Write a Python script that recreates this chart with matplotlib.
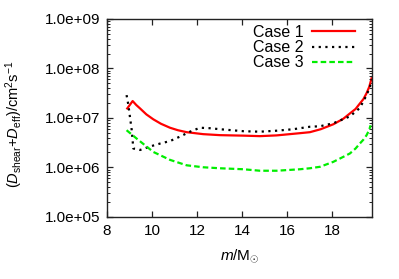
import numpy as np
import matplotlib
matplotlib.use("Agg")
import matplotlib.pyplot as plt
from matplotlib.ticker import FixedLocator, FuncFormatter, LogLocator, NullFormatter

plt.rcParams['font.family'] = ['Liberation Sans', 'DejaVu Sans']
plt.rcParams['mathtext.fontset'] = 'custom'
plt.rcParams['mathtext.rm'] = 'Liberation Sans'
plt.rcParams['mathtext.it'] = 'Liberation Sans:italic'
plt.rcParams['mathtext.bf'] = 'Liberation Sans:bold'

# Case 1 (red solid)
x1 = [8.90, 9.14, 9.30, 9.47, 9.75, 10.06, 10.4, 10.8, 11.15, 11.54, 12.28, 13.02,
      14.06, 14.8, 15.54, 16.58, 17.02, 17.5, 18.06, 18.5, 18.8, 19.05, 19.24,
      19.4, 19.54, 19.66, 19.76]
y1 = [7.19, 7.34, 7.26, 7.19, 7.07, 6.97, 6.88, 6.80, 6.75, 6.71, 6.67, 6.65,
      6.64, 6.63, 6.645, 6.69, 6.71, 6.77, 6.87, 6.98, 7.09, 7.18, 7.29,
      7.38, 7.50, 7.63, 7.80]

# Case 2 (black dotted)
x2 = [8.87, 8.95, 9.02, 9.10, 9.17, 9.47, 9.91, 10.36, 10.8, 11.24, 11.69, 12.13,
      12.58, 13.02, 14.06, 14.8, 15.54, 16.28, 17.02, 17.47, 18.06, 18.8, 19.24,
      19.54, 19.69, 19.76]
y2 = [7.46, 7.26, 7.02, 6.75, 6.38, 6.35, 6.42, 6.48, 6.53, 6.62, 6.72, 6.80,
      6.79, 6.77, 6.73, 6.72, 6.74, 6.77, 6.82, 6.83, 6.89, 7.03, 7.20,
      7.46, 7.63, 7.78]

# Case 3 (green dashed)
x3 = [8.87, 9.32, 10.06, 10.8, 11.54, 12.28, 13.02, 14.06, 14.8, 15.54, 16.58,
      17.02, 17.47, 18.06, 18.5, 18.8, 19.05, 19.24, 19.4, 19.54, 19.65, 19.72]
y3 = [6.75, 6.58, 6.31, 6.15, 6.04, 6.00, 5.98, 5.96, 5.93, 5.93, 5.96,
      5.98, 6.01, 6.11, 6.21, 6.28, 6.38, 6.48, 6.56, 6.65, 6.75, 6.85]

labels = ['Case 1', 'Case 2', 'Case 3']
yticks = [1e5, 1e6, 1e7, 1e8, 1e9]
xticks = [8, 10, 12, 14, 16, 18]

fig = plt.figure(figsize=(3.99, 2.79), dpi=100)
ax = fig.add_axes([107/399, 1-216.7/279, 265/399, 197.7/279])

ax.plot(x1, 10**np.array(y1), color='#ff0000', lw=1.6, label=labels[0])
ax.plot(x2, 10**np.array(y2), color='black', lw=1.6, dashes=(1.0, 2.0),
        dash_capstyle='butt', label=labels[1])
ax.plot(x3, 10**np.array(y3), color='#00ee00', lw=1.6, dashes=(2.5, 1.4),
        dash_capstyle='butt', label=labels[2])

ax.set_yscale('log')
ax.set_xlim(8, 19.78)
ax.set_ylim(1e5, 1e9)
ax.xaxis.set_major_locator(FixedLocator(xticks))
ax.yaxis.set_major_locator(FixedLocator(yticks))
ax.yaxis.set_minor_locator(LogLocator(base=10, subs=np.arange(2, 10)))
ax.yaxis.set_minor_formatter(NullFormatter())
ax.yaxis.set_major_formatter(FuncFormatter(lambda v, p: '%.1e' % v))

ax.tick_params(which='both', direction='in', top=True, right=True, labelsize=11,
               colors='#222222', labelcolor='black')
ax.tick_params(which='major', length=4.5, width=0.9, pad=5)
ax.tick_params(which='minor', length=2.5, width=0.7)
for s in ax.spines.values():
    s.set_linewidth(1.0)
    s.set_color('#222222')

ax.set_xlabel(r'$m$/M$_{\odot}$', fontsize=11)
ax.set_ylabel(r'$(D_{\rm shear}$+$D_{\rm eff})$/cm$^2$s$^{-1}$', fontsize=10.5)
ax.xaxis.set_label_coords(0.5, -0.155)
ax.yaxis.set_label_coords(-0.31, 0.47)

ax.legend(loc='upper right', bbox_to_anchor=(0.985, 1.035), frameon=False,
          markerfirst=False, fontsize=11.5, handlelength=2.7, handletextpad=0.55,
          labelspacing=0.02, borderpad=0.3)

fig.savefig('out.png', dpi=100)
